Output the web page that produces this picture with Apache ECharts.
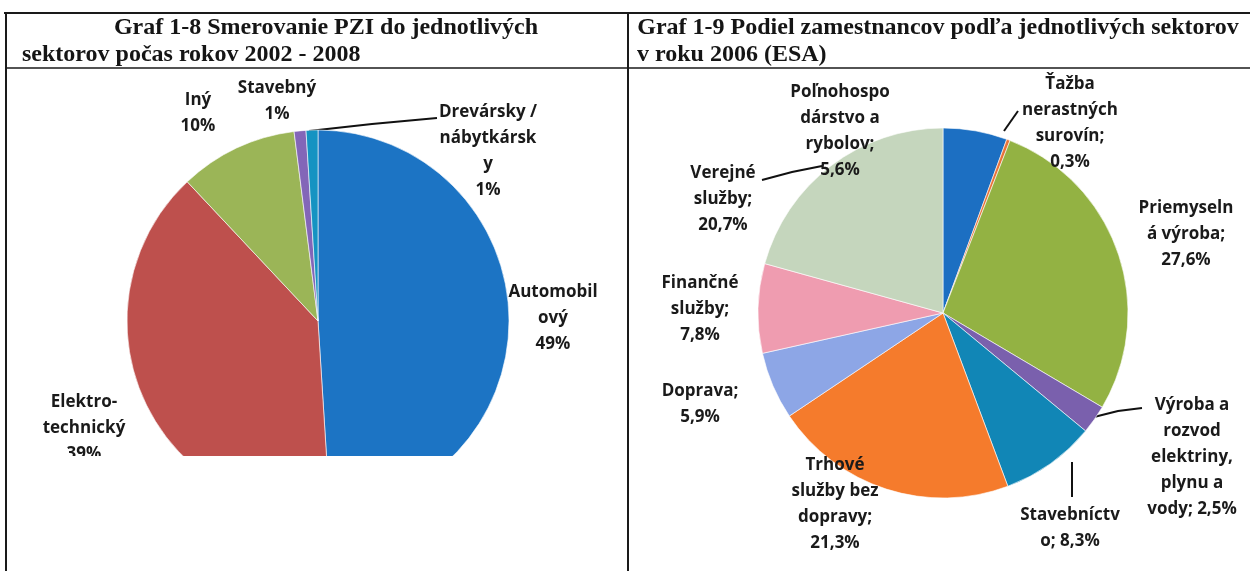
<!DOCTYPE html>
<html>
<head>
<meta charset="utf-8">
<title>Graf 1-8 / Graf 1-9</title>
<script src="https://cdn.jsdelivr.net/npm/echarts@6/dist/echarts.min.js"></script>
<style>
  html, body { margin: 0; padding: 0; background: #fff; }
  #chart { width: 1250px; height: 571px; }
</style>
</head>
<body>
<div id="chart"></div>
<script>
// Graf 1-8: Smerovanie PZI do jednotlivých sektorov počas rokov 2002 - 2008 (%)
const pziSectors = ['Automobilový', 'Elektro-technický', 'Iný', 'Stavebný', 'Drevársky / nábytkársky'];
const pziLabels = ['Automobil\nový\n', 'Elektro-\ntechnický\n', 'Iný\n', 'Stavebný\n', 'Drevársky /\nnábytkársk\ny\n'];
const pziShare = [49, 39, 10, 1, 1];

// Graf 1-9: Podiel zamestnancov podľa jednotlivých sektorov v roku 2006 (ESA), %
const esaSectors = [
  'Poľnohospodárstvo a rybolov', 'Ťažba nerastných surovín', 'Priemyselná výroba',
  'Výroba a rozvod elektriny, plynu a vody', 'Stavebníctvo', 'Trhové služby bez dopravy',
  'Doprava', 'Finančné služby', 'Verejné služby'
];
const esaLabels = [
  'Poľnohospo\ndárstvo a\nrybolov;\n', 'Ťažba\nnerastných\nsurovín;\n', 'Priemyseln\ná výroba;\n',
  'Výroba a\nrozvod\nelektriny,\nplynu a\nvody; ', 'Stavebníctv\no; ', 'Trhové\nslužby bez\ndopravy;\n',
  'Doprava;\n', 'Finančné\nslužby;\n', 'Verejné\nslužby;\n'
];
const esaShare = [5.6, 0.3, 27.6, 2.5, 8.3, 21.3, 5.9, 7.8, 20.7];

const pziColors = ['#1c74c4', '#be504d', '#9bb557', '#8366b8', '#1593c2'];
const esaColors = ['#1c6fc2', '#e8733a', '#93b243', '#7a60ad', '#1186b6', '#f57b2c', '#8da6e6', '#ef9cb0', '#c5d6bd'];

// where Excel put each label (block centre) and its leader line, if any
const pziLayout = [
  { x: 553, y: 318 },
  { x: 84, y: 428 },
  { x: 198, y: 113 },
  { x: 277, y: 101 },
  { x: 488, y: 151, line: [[309, 131], [372, 124], [437, 118]] }
];
const esaLayout = [
  { x: 840, y: 131 },
  { x: 1070, y: 123, line: [[1004, 131], [1011, 121], [1018, 111]] },
  { x: 1186, y: 234 },
  { x: 1192, y: 457, line: [[1094, 417], [1118, 411], [1142, 408]] },
  { x: 1070, y: 528, line: [[1072, 462], [1072, 480], [1072, 497]] },
  { x: 835, y: 504 },
  { x: 700, y: 404 },
  { x: 700, y: 309 },
  { x: 723, y: 199, line: [[762, 180], [792, 172], [822, 166]] }
];

const labelFont = {
  fontFamily: '"Open Sans", sans-serif',
  fontWeight: 'bold',
  fontSize: 17,
  lineHeight: 26,
  color: '#1a1a1a'
};
const titleFont = 'bold 24px "Liberation Serif", serif';

function fmtComma(v) {
  return v.toFixed(1).replace('.', ',') + '%';
}

function buildData(names, shares, colors, layout) {
  return names.map((name, i) => ({
    name,
    value: shares[i],
    itemStyle: { color: colors[i] },
    labelLine: { show: !!layout[i].line }
  }));
}

function placeLabel(layout) {
  return (params) => {
    const l = layout[params.dataIndex];
    const out = { x: l.x, y: l.y, align: 'center', verticalAlign: 'middle', hideOverlap: false, moveOverlap: null };
    if (l.line) out.labelLinePoints = l.line;
    return out;
  };
}

function pieSeries(cfg) {
  return {
    type: 'pie',
    center: cfg.center,
    radius: cfg.radius,
    startAngle: 90,
    clockwise: true,
    avoidLabelOverlap: false,
    silent: true,
    animation: false,
    itemStyle: { borderColor: '#ffffff', borderWidth: 0.6 },
    label: {
      show: true,
      position: 'outside',
      align: 'center',
      formatter: cfg.formatter,
      ...labelFont
    },
    labelLine: { show: true, lineStyle: { color: '#111', width: 2 } },
    labelLayout: placeLabel(cfg.layout),
    emphasis: { disabled: true },
    data: cfg.data
  };
}

function hLine(x1, x2, y, w) {
  return { type: 'line', z: 120, shape: { x1, y1: y, x2, y2: y }, style: { stroke: '#1a1a1a', lineWidth: w } };
}
function vLine(x, y1, y2, w) {
  return { type: 'line', z: 120, shape: { x1: x, y1, x2: x, y2 }, style: { stroke: '#1a1a1a', lineWidth: w } };
}
function title(text, x, y, align) {
  return {
    type: 'text', z: 120, x, y,
    style: { text, font: titleFont, fill: '#151515', align, verticalAlign: 'middle' }
  };
}

const chart = echarts.init(document.getElementById('chart'), null, { renderer: 'canvas' });

chart.setOption({
  backgroundColor: '#ffffff',
  animation: false,
  graphic: [
    // the scan cuts the left pie off at its bottom
    { type: 'rect', z: 100, shape: { x: 8, y: 456, width: 618, height: 115 }, style: { fill: '#ffffff' } },
    hLine(4, 1250, 13, 2),
    hLine(6, 1250, 68, 1.5),
    vLine(6, 12, 571, 2),
    vLine(628, 12, 571, 2),
    title('Graf 1-8 Smerovanie PZI do jednotlivých', 326, 28, 'center'),
    title('sektorov počas rokov 2002 - 2008', 22, 55, 'left'),
    title('Graf 1-9 Podiel zamestnancov podľa jednotlivých sektorov', 938, 28, 'center'),
    title('v roku 2006 (ESA)', 637, 55, 'left')
  ],
  series: [
    pieSeries({
      center: [318, 321],
      radius: 191,
      layout: pziLayout,
      data: buildData(pziSectors, pziShare, pziColors, pziLayout),
      formatter: (p) => pziLabels[p.dataIndex] + p.value + '%'
    }),
    pieSeries({
      center: [943, 313],
      radius: 185,
      layout: esaLayout,
      data: buildData(esaSectors, esaShare, esaColors, esaLayout),
      formatter: (p) => esaLabels[p.dataIndex] + fmtComma(p.value)
    })
  ]
});
</script>
</body>
</html>
